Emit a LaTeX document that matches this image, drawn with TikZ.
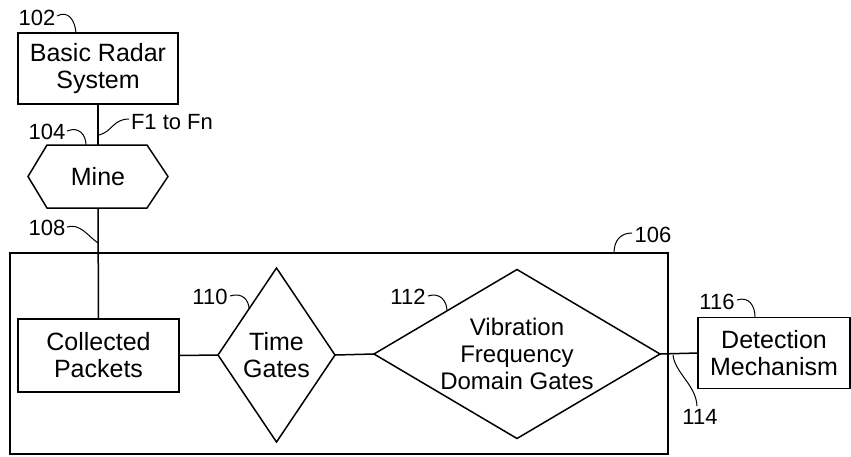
\documentclass[tikz,border=0pt]{standalone}
\usepackage{fontspec}
\setmainfont{Liberation Sans}
\usetikzlibrary{shapes.geometric}
\begin{document}
\begin{tikzpicture}[x=1pt,y=-1pt,
  every node/.style={inner sep=0pt, outer sep=0pt},
  body/.style={font=\fontsize{25}{27}\selectfont, align=center},
  blk/.style={body, draw, line width=1.5pt, rectangle},
  gate/.style={draw, line width=1.5pt, diamond},
  conn/.style={line width=1.5pt},
  lead/.style={line width=1pt},
  ref/.style={font=\fontsize{22}{23}\selectfont}]
\useasboundingbox (0,0) rectangle (851,456);
% big box 106
\node[draw, line width=1.5pt, minimum width=658pt, minimum height=201pt] (outer) at (339,353.5) {};
% blocks
\node[blk, minimum width=160pt, minimum height=71pt] (radar) at (98,68.5) {Basic Radar\\System};
\node[body, minimum width=140pt, minimum height=63pt] (mine) at (98,176.5) {Mine};
\draw[conn] (mine.west) -- ([xshift=19pt]mine.north west) -- ([xshift=-21pt]mine.north east) -- (mine.east) -- ([xshift=-21pt]mine.south east) -- ([xshift=19pt]mine.south west) -- cycle;
\node[blk, minimum width=161pt, minimum height=73pt] (packets) at (98.5,355.5) {Collected\\Packets};
\node[gate, minimum width=117pt, minimum height=174pt] (time) at (276.5,355) {};
\node[body] (timet) at (time.center) {Time\\Gates};
\node[gate, minimum width=286pt, minimum height=169pt] (vib) at (517,354) {};
\node[body, font=\fontsize{24}{27}\selectfont] (vibt) at (vib.center) {Vibration\\Frequency\\Domain Gates};
\node[blk, minimum width=152pt, minimum height=71pt] (detect) at (774,353) {Detection\\Mechanism};
% connectors
\draw[conn] (radar.south) -- (mine.north);
\draw[conn] (mine.south) -- (packets.north);
\draw[conn] (packets.east) -- (time.west);
\draw[conn] (time.east) -- (vib.west);
\draw[conn] (vib.east) -- (detect.west);
% reference labels
\node[ref] (l102) at (37,18) {102};
\node[ref] (l104) at (47,132) {104};
\node[ref, anchor=west] (lf) at (131,122) {F1 to Fn};
\node[ref] (l108) at (47,228) {108};
\node[ref] (l106) at (653,235) {106};
\node[ref] (l110) at (210,297) {110};
\node[ref] (l112) at (408,297) {112};
\node[ref] (l116) at (717,302) {116};
\node[ref] (l114) at (700,417) {114};
% leader curves
\draw[lead] (57,16) .. controls (68,10) and (75,20) .. (76,33);
\draw[lead] (67,131) .. controls (79,126) and (86,135) .. (86,145);
\draw[lead] (99,135) .. controls (112,132) and (113,119) .. (129,119);
\draw[lead] (67,227) .. controls (80,223) and (88,236) .. (98,243);
\draw[lead] (614,253) .. controls (614,240) and (621,233) .. (632,233);
\draw[lead] (230,296) .. controls (242,292) and (249,300) .. (249,309);
\draw[lead] (428,296) .. controls (440,292) and (447,301) .. (447,311);
\draw[lead] (737,300) .. controls (749,296) and (755,306) .. (755,317);
\draw[lead] (673,355) .. controls (675,373) and (696,385) .. (697,406);
\end{tikzpicture}
\end{document}
